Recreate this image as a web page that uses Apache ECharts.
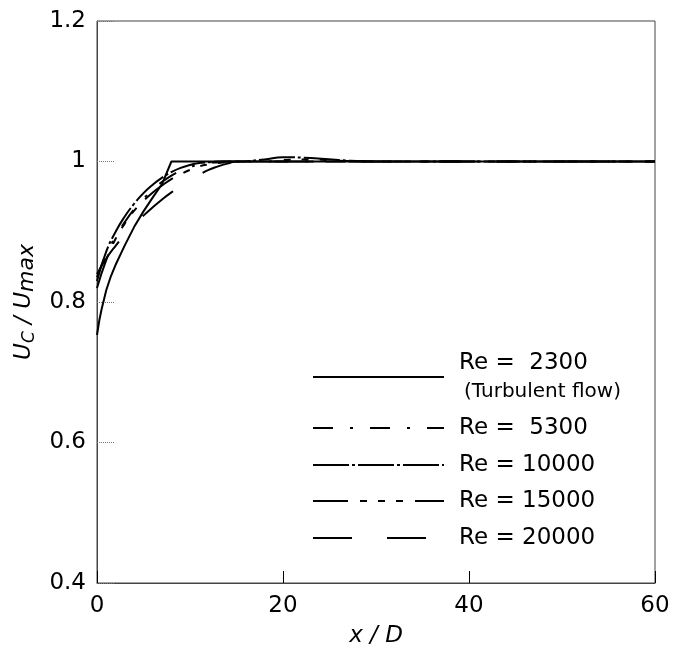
<!DOCTYPE html>
<html>
<head>
<meta charset="utf-8">
<title>Uc / Umax vs x / D</title>
<script src="https://cdn.jsdelivr.net/npm/echarts@6.0.0/dist/echarts.min.js"></script>
<style>
    html, body { margin: 0; padding: 0; background: #fff; }
    #chart { width: 674px; height: 648px; }
</style>
</head>
<body>
<div id="chart"></div>
<script>
// x / D stations
var xLaminar = [0, 0.25, 0.5, 1, 1.5, 2, 3, 4, 5, 6, 7, 8, 60];
var xTurb = [0, 1, 2, 3, 4, 5, 6, 7, 8, 9, 10, 11, 12, 13, 14, 15, 18, 20, 23, 26, 30, 60];

// Uc / Umax
var re2300 = [0.753, 0.774, 0.79, 0.817, 0.837, 0.853, 0.881, 0.907, 0.929, 0.949, 0.968, 1.0, 1.0];
var re5300 = [0.835, 0.868, 0.893, 0.914, 0.932, 0.947, 0.96, 0.971, 0.98, 0.987, 0.992, 0.996, 0.998, 0.999, 1.0, 1.0, 1.0, 1.0, 1.0, 1.0, 1.0, 1.0];
var re10000 = [0.83, 0.872, 0.9, 0.922, 0.94, 0.955, 0.967, 0.977, 0.985, 0.991, 0.995, 0.998, 0.999, 1.0, 1.0, 1.0, 1.003, 1.006, 1.005, 1.002, 1.0, 1.0];
var re15000 = [0.82, 0.86, 0.89, 0.912, 0.93, 0.944, 0.956, 0.966, 0.975, 0.982, 0.988, 0.993, 0.996, 0.998, 0.999, 1.0, 1.0, 1.002, 1.003, 1.001, 1.0, 1.0];
var re20000 = [0.84, 0.862, 0.88, 0.896, 0.91, 0.923, 0.935, 0.946, 0.956, 0.965, 0.973, 0.981, 0.988, 0.993, 0.997, 1.0, 1.0, 1.0, 1.0, 1.0, 1.0, 1.0];

var seriesNames = ['Re =  2300', 'Re =  5300', 'Re = 10000', 'Re = 15000', 'Re = 20000'];
var xTicks = [0, 20, 40, 60];
var yTicks = [0.4, 0.6, 0.8, 1, 1.2];

var FONT = 'DejaVu Sans';

function pairs(xs, ys) {
    var out = [];
    for (var i = 0; i < xs.length; i++) {
        out.push([xs[i], ys[i]]);
    }
    return out;
}

function lineSeries(name, data, dash, smooth) {
    return {
        name: name,
        type: 'line',
        data: data,
        symbol: 'none',
        smooth: smooth,
        silent: true,
        animation: false,
        itemStyle: { color: '#000' },
        lineStyle: { color: '#000', width: 2, type: dash }
    };
}

// one legend block per row so each row sits where the original key does
var legendRows = [377, 428, 465, 501, 538];
var legends = [];
for (var i = 0; i < seriesNames.length; i++) {
    var first = i === 0;
    legends.push({
        data: [seriesNames[i]],
        left: 312,
        top: first ? legendRows[i] - 29 : legendRows[i] - 13,
        padding: 0,
        itemWidth: 131,
        itemHeight: 14,
        selectedMode: false,
        itemStyle: { opacity: 0 },
        formatter: first ? function (n) {
            return '{a|' + n + '}\n{b|(Turbulent flow)}';
        } : null,
        textStyle: {
            fontFamily: FONT,
            fontSize: 23,
            lineHeight: 26,
            color: '#000',
            padding: [0, 0, 0, 10],
            rich: {
                a: { fontFamily: FONT, fontSize: 23, lineHeight: 30, color: '#000' },
                b: { fontFamily: FONT, fontSize: 20, lineHeight: 28, color: '#000', padding: [0, 0, 0, 5] }
            }
        }
    });
}

var chart = echarts.init(document.getElementById('chart'));
chart.setOption({
    backgroundColor: '#fff',
    animation: false,
    grid: {
        left: 97, right: 19, top: 21, bottom: 65,
        containLabel: false,
        outerBoundsMode: 'none',
        show: true, borderColor: '#444', borderWidth: 1
    },
    legend: legends,
    xAxis: {
        type: 'value',
        min: xTicks[0],
        max: xTicks[xTicks.length - 1],
        interval: 20,
        name: 'x / D',
        nameLocation: 'middle',
        nameGap: 42,
        nameTextStyle: { fontFamily: FONT, fontSize: 23, fontStyle: 'italic', color: '#000' },
        axisLine: { lineStyle: { color: '#444', width: 1 } },
        axisTick: { inside: true, length: 12, lineStyle: { color: '#000', width: 1 } },
        axisLabel: { fontFamily: FONT, fontSize: 23, color: '#000', margin: 12 },
        splitLine: { show: false }
    },
    yAxis: {
        type: 'value',
        min: yTicks[0],
        max: yTicks[yTicks.length - 1],
        interval: 0.2,
        name: '{u|U}{s|C}{u| / U}{m|max}',
        nameLocation: 'middle',
        nameGap: 57,
        nameTextStyle: {
            color: '#000',
            rich: {
                u: { fontFamily: FONT, fontSize: 23, fontStyle: 'italic', lineHeight: 28, color: '#000' },
                s: { fontFamily: FONT, fontSize: 17, fontStyle: 'italic', lineHeight: 17, verticalAlign: 'bottom', color: '#000' },
                m: { fontFamily: FONT, fontSize: 22, fontStyle: 'italic', lineHeight: 24, verticalAlign: 'bottom', color: '#000' }
            }
        },
        axisLine: { lineStyle: { color: '#444', width: 1 } },
        axisTick: { inside: true, length: 18, lineStyle: { color: '#777', width: 1, type: 'dotted' } },
        axisLabel: {
            fontFamily: FONT, fontSize: 23, color: '#000', margin: 11,
            formatter: function (v) { return String(Math.round(v * 10) / 10); }
        },
        splitLine: { show: false }
    },
    series: [
        lineSeries(seriesNames[0], pairs(xLaminar, re2300), 'solid', false),
        lineSeries(seriesNames[1], pairs(xTurb, re5300), [20, 17, 3, 17], true),
        lineSeries(seriesNames[2], pairs(xTurb, re10000), [36, 3, 3, 3], true),
        lineSeries(seriesNames[3], pairs(xTurb, re15000), [35, 12, 7, 11, 7, 11, 7, 12], true),
        lineSeries(seriesNames[4], pairs(xTurb, re20000), [39, 35], true)
    ]
});
</script>
</body>
</html>
